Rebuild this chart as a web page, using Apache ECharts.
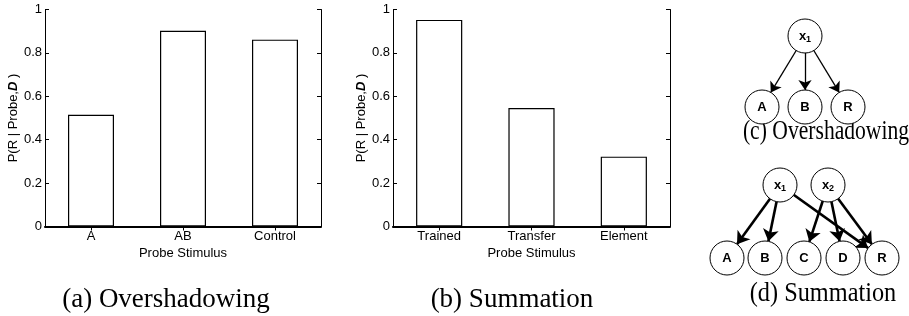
<!DOCTYPE html>
<html>
<head>
<meta charset="utf-8">
<script src="https://cdn.jsdelivr.net/npm/echarts@6/dist/echarts.min.js"></script>
<style>
  html, body { margin: 0; padding: 0; background: #fff; }
  #chart { width: 909px; height: 316px; }
</style>
</head>
<body>
<div id="chart"></div>
<script>
// (a) overshadowing
var catsA = ['A', 'AB', 'Control'];
var valsA = [0.515, 0.902, 0.861];
// (b) summation
var catsB = ['Trained', 'Transfer', 'Element'];
var valsB = [0.952, 0.546, 0.322];

// network diagrams (c) and (d)
var nodesC = ['x1', 'A', 'B', 'R'];
var edgesC = [['x1', 'A'], ['x1', 'B'], ['x1', 'R']];
var nodesD = ['x1', 'x2', 'A', 'B', 'C', 'D', 'R'];
var edgesD = [['x1', 'A'], ['x1', 'B'], ['x1', 'R'], ['x2', 'C'], ['x2', 'D'], ['x2', 'R']];

var captions = ['(a) Overshadowing', '(b) Summation', '(c) Overshadowing', '(d) Summation'];

// layout only (pixel positions of the diagram nodes)
var posC = { x1: [805, 36], A: [762, 107], B: [805, 107], R: [848, 107] };
var posD = { x1: [780, 185], x2: [828, 185], A: [727, 258], B: [765, 258], C: [804, 258], D: [843, 258], R: [882, 258] };

var FONT = 'Liberation Sans, Arial, sans-serif';
var FS = 13;
var black = '#000';

function yName() {
  return {
    name: 'P(R | Probe,{d|D} )',
    nameLocation: 'middle',
    nameGap: 22,
    nameTextStyle: {
      fontFamily: FONT, fontSize: FS, color: black,
      rich: { d: { fontFamily: FONT, fontSize: FS, fontWeight: 'bold', fontStyle: 'italic', color: black } }
    }
  };
}

function yAxes(grid) {
  var left = Object.assign({
    type: 'value', gridIndex: grid, min: 0, max: 1, interval: 0.2,
    axisLine: { show: true, lineStyle: { color: black, width: 1 } },
    axisTick: { show: true, inside: true, length: 4, lineStyle: { color: black } },
    axisLabel: { fontFamily: FONT, fontSize: FS, color: black, margin: 3 },
    splitLine: { show: false }
  }, yName());
  var right = {
    type: 'value', gridIndex: grid, position: 'right', min: 0, max: 1, interval: 0.2,
    axisLine: { show: true, lineStyle: { color: black, width: 1 } },
    axisTick: { show: true, inside: true, length: 4, lineStyle: { color: black } },
    axisLabel: { show: false },
    splitLine: { show: false }
  };
  return [left, right];
}

function xAxes(grid, cats) {
  var bottom = {
    type: 'category', gridIndex: grid, data: cats,
    name: 'Probe Stimulus', nameLocation: 'middle', nameGap: 18,
    nameTextStyle: { fontFamily: FONT, fontSize: FS, color: black },
    axisLine: { show: true, lineStyle: { color: black, width: 2 } },
    axisTick: { show: true, inside: true, alignWithLabel: true, length: 4, lineStyle: { color: black } },
    axisLabel: { fontFamily: FONT, fontSize: FS, color: black, margin: 3 },
    splitLine: { show: false }
  };
  var top = {
    type: 'category', gridIndex: grid, data: cats, position: 'top',
    axisLine: { show: true, lineStyle: { color: black, width: 1 } },
    axisTick: { show: true, inside: true, alignWithLabel: true, length: 4, lineStyle: { color: black } },
    axisLabel: { show: false },
    splitLine: { show: false }
  };
  return [bottom, top];
}

function barSeries(idx, vals) {
  return {
    type: 'bar', xAxisIndex: idx * 2, yAxisIndex: idx * 2, data: vals,
    barWidth: '50%', silent: true,
    itemStyle: { color: '#fff', borderColor: black, borderWidth: 1.2 }
  };
}

function graphSeries(nodes, edges, pos, lineW, arrow) {
  return {
    type: 'graph', coordinateSystem: 'cartesian2d', xAxisIndex: 4, yAxisIndex: 4,
    symbol: 'circle', symbolSize: 34, silent: true,
    edgeSymbol: ['none', 'arrow'], edgeSymbolSize: arrow,
    itemStyle: { color: '#fff', borderColor: black, borderWidth: 1 },
    lineStyle: { color: black, width: lineW, opacity: 1, curveness: 0 },
    label: {
      show: true, position: 'inside', fontFamily: FONT, fontWeight: 'bold', fontSize: 13, color: black,
      formatter: function (p) {
        var n = p.name;
        return n.charAt(0) === 'x' ? '{x|x}{s|' + n.slice(1) + '}' : n;
      },
      rich: {
        x: { fontFamily: FONT, fontWeight: 'bold', fontSize: 13, color: black },
        s: { fontFamily: FONT, fontWeight: 'bold', fontSize: 9, color: black, padding: [8, 0, 0, 0] }
      }
    },
    data: nodes.map(function (n) { return { name: n, value: pos[n] }; }),
    links: edges.map(function (e) { return { source: e[0], target: e[1] }; })
  };
}

var captionPos = [[166, 300, 1], [512, 300, 1], [826, 132, 0.8], [823, 294, 0.9]];

var chart = echarts.init(document.getElementById('chart'), null, { renderer: 'canvas' });
chart.setOption({
  animation: false,
  backgroundColor: '#fff',
  grid: [
    { left: 45, top: 9.5, width: 276, height: 217 },
    { left: 393, top: 9.5, width: 277, height: 217 },
    { left: 0, top: 0, width: 909, height: 316 }
  ],
  xAxis: xAxes(0, catsA).concat(xAxes(1, catsB)).concat([
    { type: 'value', gridIndex: 2, min: 0, max: 909, show: false }
  ]),
  yAxis: yAxes(0).concat(yAxes(1)).concat([
    { type: 'value', gridIndex: 2, min: 0, max: 316, inverse: true, show: false }
  ]),
  series: [
    barSeries(0, valsA),
    barSeries(1, valsB),
    graphSeries(nodesC, edgesC, posC, 1.3, [0, 10]),
    graphSeries(nodesD, edgesD, posD, 2.6, [0, 12])
  ],
  graphic: captions.map(function (t, i) {
    var p = captionPos[i];
    return {
      type: 'text', x: p[0], y: p[1], scaleX: p[2],
      style: {
        text: t, fill: black,
        font: '27px "Liberation Serif", "Times New Roman", serif',
        textAlign: 'center', textVerticalAlign: 'middle'
      }
    };
  })
});
</script>
</body>
</html>
